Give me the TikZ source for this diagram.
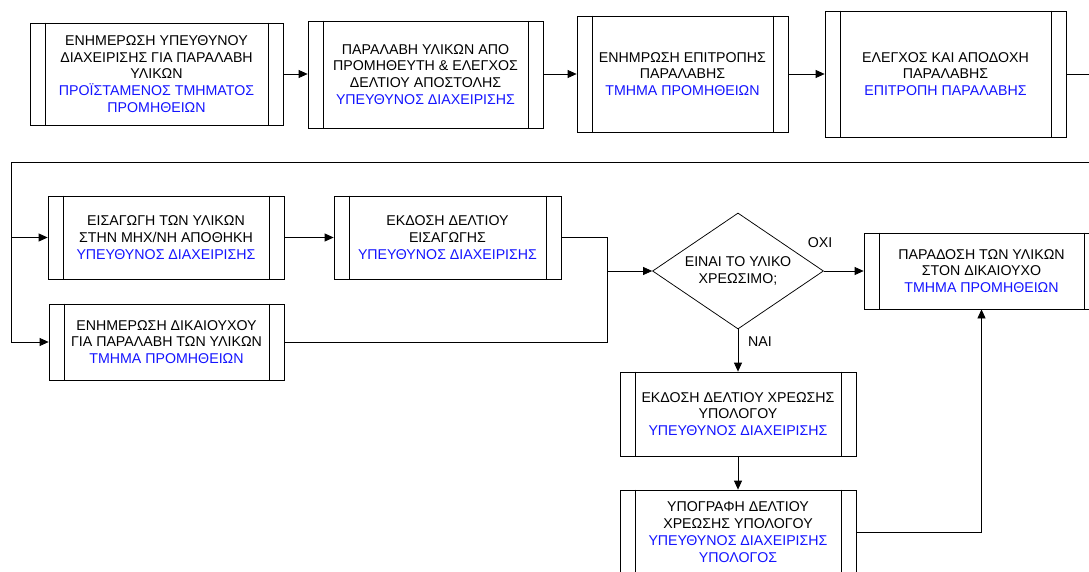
\documentclass[tikz,border=0pt]{standalone}
\usepackage{fontspec}
\setmainfont{Liberation Sans}
\usetikzlibrary{shapes.geometric,arrows.meta}
\definecolor{roleblue}{RGB}{20,20,255}
\newcommand{\roletxt}[1]{\textcolor{roleblue}{#1}}
\begin{document}
\begin{tikzpicture}[x=1pt,y=-1pt,
  proc/.style={draw=black, line width=0.75pt, fill=white, align=center,
    font=\fontsize{14.2}{16.8}\selectfont, inner sep=0pt},
  dec/.style={diamond, aspect=1.47, draw=black, line width=0.75pt, fill=white, align=center,
    font=\fontsize{14.2}{16.8}\selectfont, inner sep=0pt,
    minimum width=171pt, minimum height=116pt},
  lbl/.style={font=\fontsize{14.2}{16.8}\selectfont, inner sep=0pt},
  conn/.style={line width=0.75pt, draw=black},
  arr/.style={conn, -{Triangle[length=9pt,width=8pt]}}]
\useasboundingbox (0,0) rectangle (1089,572);
\clip (0,0) rectangle (1089,572);
\fill[white] (0,0) rectangle (1089,572);

% row 1
\node[proc, minimum width=253pt, minimum height=102pt] (b1) at (156.5,74)
  {ΕΝΗΜΕΡΩΣΗ ΥΠΕΥΘΥΝΟΥ\\ΔΙΑΧΕΙΡΙΣΗΣ ΓΙΑ ΠΑΡΑΛΑΒΗ\\ΥΛΙΚΩΝ\\\roletxt{ΠΡΟΪΣΤΑΜΕΝΟΣ ΤΜΗΜΑΤΟΣ}\\\roletxt{ΠΡΟΜΗΘΕΙΩΝ}};
\node[proc, minimum width=235pt, minimum height=107pt] (b2) at (425.5,74.5)
  {ΠΑΡΑΛΑΒΗ ΥΛΙΚΩΝ ΑΠΟ\\ΠΡΟΜΗΘΕΥΤΗ \& ΕΛΕΓΧΟΣ\\ΔΕΛΤΙΟΥ ΑΠΟΣΤΟΛΗΣ\\\roletxt{ΥΠΕΥΘΥΝΟΣ ΔΙΑΧΕΙΡΙΣΗΣ}};
\node[proc, minimum width=211pt, minimum height=116pt] (b3) at (682.5,74)
  {ΕΝΗΜΡΩΣΗ ΕΠΙΤΡΟΠΗΣ\\ΠΑΡΑΛΑΒΗΣ\\\roletxt{ΤΜΗΜΑ ΠΡΟΜΗΘΕΙΩΝ}};
\node[proc, minimum width=241pt, minimum height=126pt] (b4) at (945.5,74)
  {ΕΛΕΓΧΟΣ ΚΑΙ ΑΠΟΔΟΧΗ\\ΠΑΡΑΛΑΒΗΣ\\\roletxt{ΕΠΙΤΡΟΠΗ ΠΑΡΑΛΑΒΗΣ}};

% row 2
\node[proc, minimum width=236pt, minimum height=83pt] (b5) at (166,237.5)
  {ΕΙΣΑΓΩΓΗ ΤΩΝ ΥΛΙΚΩΝ\\ΣΤΗΝ ΜΗΧ/ΝΗ ΑΠΟΘΗΚΗ\\\roletxt{ΥΠΕΥΘΥΝΟΣ ΔΙΑΧΕΙΡΙΣΗΣ}};
\node[proc, minimum width=235pt, minimum height=76pt] (b6) at (166.5,342)
  {ΕΝΗΜΕΡΩΣΗ ΔΙΚΑΙΟΥΧΟΥ\\ΓΙΑ ΠΑΡΑΛΑΒΗ ΤΩΝ ΥΛΙΚΩΝ\\\roletxt{ΤΜΗΜΑ ΠΡΟΜΗΘΕΙΩΝ}};
\node[proc, minimum width=227pt, minimum height=83pt] (b7) at (447.5,237.5)
  {ΕΚΔΟΣΗ ΔΕΛΤΙΟΥ\\ΕΙΣΑΓΩΓΗΣ\\\roletxt{ΥΠΕΥΘΥΝΟΣ ΔΙΑΧΕΙΡΙΣΗΣ}};
\node[dec] (d1) at (738,271) {ΕΙΝΑΙ ΤΟ ΥΛΙΚΟ\\ΧΡΕΩΣΙΜΟ;};
\node[proc, minimum width=235pt, minimum height=76pt] (b8) at (981.5,271)
  {ΠΑΡΑΔΟΣΗ ΤΩΝ ΥΛΙΚΩΝ\\ΣΤΟΝ ΔΙΚΑΙΟΥΧΟ\\\roletxt{ΤΜΗΜΑ ΠΡΟΜΗΘΕΙΩΝ}};
\node[proc, minimum width=236pt, minimum height=84pt] (b9) at (738,414)
  {ΕΚΔΟΣΗ ΔΕΛΤΙΟΥ ΧΡΕΩΣΗΣ\\ΥΠΟΛΟΓΟΥ\\\roletxt{ΥΠΕΥΘΥΝΟΣ ΔΙΑΧΕΙΡΙΣΗΣ}};
\node[proc, minimum width=236pt, minimum height=84pt] (b10) at (738,532)
  {ΥΠΟΓΡΑΦΗ ΔΕΛΤΙΟΥ\\ΧΡΕΩΣΗΣ ΥΠΟΛΟΓΟΥ\\\roletxt{ΥΠΕΥΘΥΝΟΣ ΔΙΑΧΕΙΡΙΣΗΣ}\\\roletxt{ΥΠΟΛΟΓΟΣ}};

% inner side bars
\foreach \n in {b1,b2,b3,b4,b5,b6,b7,b8,b9,b10}
  \draw[conn] ([xshift=15.5pt]\n.north west) -- ([xshift=15.5pt]\n.south west)
              ([xshift=-15.5pt]\n.north east) -- ([xshift=-15.5pt]\n.south east);

% labels
\node[lbl] (no) at (820,243) {ΟΧΙ};
\node[lbl] (yes) at (760,342) {ΝΑΙ};

% connectors
\coordinate (off) at (1100,74);
\coordinate (offd) at (1100,162);
\coordinate (lft) at (11,162);
\coordinate (lftd) at (11,342);
\coordinate (m1) at (607,237.5);
\coordinate (m2) at (607,271);
\coordinate (m3) at (607,342);
\coordinate (r1) at (981.5,532);

\draw[arr] (b1.east) -- (b2.west |- b1.east);
\draw[arr] (b2.east |- b1.east) -- (b3.west |- b1.east);
\draw[arr] (b3.east) -- (b4.west);
\draw[conn] (b4.east) -- (off) -- (offd) -- (lft) -- (lftd);
\draw[arr] (lft |- b5.west) -- (b5.west);
\draw[arr] (lftd) -- (b6.west);
\draw[arr] (b5.east) -- (b7.west);
\draw[arr] (b7.east) -- (m1) -- (m2) -- (d1.west);
\draw[conn] (b6.east) -- (m3) -- (m2);
\draw[arr] (d1.east) -- (b8.west);
\draw[arr] (d1.south) -- (b9.north);
\draw[arr] (b9.south) -- (b10.north);
\draw[arr] (b10.east) -- (r1) -- (b8.south);
\end{tikzpicture}
\end{document}
